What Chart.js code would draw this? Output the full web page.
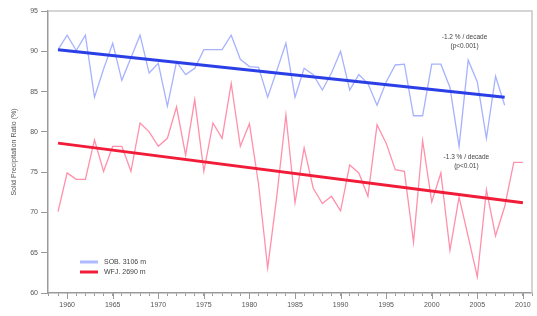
<!DOCTYPE html>
<html>
<head>
<meta charset="utf-8">
<script src="https://cdn.jsdelivr.net/npm/chart.js@4.4.1/dist/chart.umd.min.js"></script>
<style>
  html, body { margin: 0; padding: 0; background: #fff; }
  #wrap { width: 537px; height: 316px; }
</style>
</head>
<body>
<div id="wrap"><canvas id="chart" width="537" height="316"></canvas></div>
<script>
// Station series, solid precipitation ratio (%) per year
const sobYears = [1959, 1960, 1961, 1962, 1963, 1964, 1965, 1966, 1967, 1968,
                  1969, 1970, 1971, 1972, 1973, 1974, 1975, 1976, 1977, 1978,
                  1979, 1980, 1981, 1982, 1983, 1984, 1985, 1986, 1987, 1988,
                  1989, 1990, 1991, 1992, 1993, 1994, 1995, 1996, 1997, 1998,
                  1999, 2000, 2001, 2002, 2003, 2004, 2005, 2006, 2007, 2008];
const sobValues = [90.2, 92.0, 90.1, 92.0, 84.3, 87.8, 91.0, 86.4, 89.2, 92.0,
                   87.3, 88.5, 83.2, 88.7, 87.1, 87.9, 90.2, 90.2, 90.2, 92.0,
                   89.0, 88.1, 88.0, 84.3, 87.6, 91.0, 84.3, 87.9, 87.1, 85.2,
                   87.3, 90.0, 85.2, 87.1, 86.0, 83.3, 86.2, 88.3, 88.4, 82.0,
                   82.0, 88.4, 88.4, 85.5, 78.2, 88.9, 86.2, 79.2, 86.9, 83.3];

const wfjYears = [1959, 1960, 1961, 1962, 1963, 1964, 1965, 1966, 1967, 1968,
                  1969, 1970, 1971, 1972, 1973, 1974, 1975, 1976, 1977, 1978,
                  1979, 1980, 1981, 1982, 1983, 1984, 1985, 1986, 1987, 1988,
                  1989, 1990, 1991, 1992, 1993, 1994, 1995, 1996, 1997, 1998,
                  1999, 2000, 2001, 2002, 2003, 2004, 2005, 2006, 2007, 2008,
                  2009, 2010];
const wfjValues = [70.1, 74.9, 74.1, 74.1, 79.0, 75.1, 78.2, 78.2, 75.1, 81.1,
                   80.0, 78.2, 79.2, 83.1, 77.1, 84.0, 75.1, 81.1, 79.2, 86.0,
                   78.2, 81.0, 73.5, 63.1, 72.0, 82.1, 71.2, 78.0, 73.0, 71.1,
                   72.0, 70.2, 75.9, 74.9, 72.0, 80.9, 78.6, 75.3, 75.1, 66.3,
                   78.9, 71.3, 74.9, 65.3, 71.9, 67.0, 62.0, 72.8, 67.1, 70.7,
                   76.2, 76.2];

// Linear trend end points
const sobTrendYears = [1959, 2008];
const sobTrendValues = [90.2, 84.3];
const wfjTrendYears = [1959, 2010];
const wfjTrendValues = [78.6, 71.2];

const seriesNames = ['SOB. 3106 m', 'WFJ. 2690 m'];
const trendNotes = [
    { text: ['-1.2 % / decade', '(p<0.001)'], x: 2003.6, y: 91.7 },
    { text: ['-1.3 % / decade', '(p<0.01)'], x: 2003.8, y: 76.8 }
];
const yTicks = [60, 65, 70, 75, 80, 85, 90, 95];
const xLabelYears = [1960, 1965, 1970, 1975, 1980, 1985, 1990, 1995, 2000, 2005, 2010];

const blueLine = 'rgba(95, 115, 255, 0.55)';
const blueTrend = '#2b3fe6';
const redLine = 'rgba(255, 70, 115, 0.6)';
const redTrend = '#f01c38';
const axisGrey = '#9a9a9a';
const textGrey = '#555';

function pts(xs, ys) {
    return xs.map((x, i) => ({ x: x, y: ys[i] }));
}

// frame on top/right, longer major ticks, legend and trend notes
const extras = {
    id: 'extras',
    afterDraw(chart) {
        const ctx = chart.ctx;
        const a = chart.chartArea;
        const xs = chart.scales.x;
        const ys = chart.scales.y;
        ctx.save();
        ctx.strokeStyle = '#c8c8c8';
        ctx.lineWidth = 1.5;
        ctx.beginPath();
        ctx.moveTo(a.left, a.top);
        ctx.lineTo(a.right, a.top);
        ctx.lineTo(a.right, a.bottom);
        ctx.stroke();

        ctx.strokeStyle = axisGrey;
        ctx.lineWidth = 1;
        xLabelYears.forEach(yr => {
            const px = Math.round(xs.getPixelForValue(yr)) + 0.5;
            ctx.beginPath();
            ctx.moveTo(px, a.bottom);
            ctx.lineTo(px, a.bottom + 6);
            ctx.stroke();
        });

        // legend
        const items = [
            { label: seriesNames[0], color: 'rgba(120, 140, 255, 0.6)' },
            { label: seriesNames[1], color: redTrend }
        ];
        ctx.font = '7px Arial, "Liberation Sans", sans-serif';
        ctx.textBaseline = 'middle';
        items.forEach((it, i) => {
            const y = 262 + i * 10;
            ctx.strokeStyle = it.color;
            ctx.lineWidth = 3;
            ctx.beginPath();
            ctx.moveTo(80, y);
            ctx.lineTo(98, y);
            ctx.stroke();
            ctx.fillStyle = '#444';
            ctx.fillText(it.label, 104, y);
        });

        // trend notes
        ctx.textAlign = 'center';
        ctx.font = '6.5px Arial, "Liberation Sans", sans-serif';
        trendNotes.forEach(n => {
            const px = xs.getPixelForValue(n.x);
            const py = ys.getPixelForValue(n.y);
            n.text.forEach((t, i) => ctx.fillText(t, px, py + i * 9));
        });
        ctx.restore();
    }
};

new Chart(document.getElementById('chart'), {
    type: 'line',
    data: {
        datasets: [
            { label: seriesNames[0], data: pts(sobYears, sobValues), borderColor: blueLine,
              borderWidth: 1.3, pointRadius: 0, tension: 0, order: 3 },
            { label: seriesNames[1], data: pts(wfjYears, wfjValues), borderColor: redLine,
              borderWidth: 1.3, pointRadius: 0, tension: 0, order: 4 },
            { label: 'SOB trend', data: pts(sobTrendYears, sobTrendValues), borderColor: blueTrend,
              borderWidth: 3, pointRadius: 0, order: 1 },
            { label: 'WFJ trend', data: pts(wfjTrendYears, wfjTrendValues), borderColor: redTrend,
              borderWidth: 3, pointRadius: 0, order: 2 }
        ]
    },
    options: {
        responsive: false,
        animation: false,
        layout: { padding: { top: 11, right: 5, left: 0, bottom: 0 } },
        plugins: { legend: { display: false }, tooltip: { enabled: false } },
        scales: {
            x: {
                type: 'linear',
                min: 1957.9,
                max: 2011,
                afterBuildTicks(axis) {
                    const t = [];
                    for (let yr = 1958; yr <= 2011; yr++) t.push({ value: yr });
                    axis.ticks = t;
                },
                afterFit(axis) { axis.height = 23; },
                grid: { drawOnChartArea: false, tickLength: 3, color: axisGrey },
                border: { color: axisGrey, width: 1.5 },
                ticks: {
                    autoSkip: false,
                    maxRotation: 0,
                    padding: 5,
                    color: textGrey,
                    font: { size: 7, family: 'Arial, "Liberation Sans", sans-serif' },
                    callback: v => (xLabelYears.includes(v) ? String(v) : '')
                }
            },
            y: {
                min: 60,
                max: 95,
                afterBuildTicks(axis) {
                    axis.ticks = yTicks.map(v => ({ value: v }));
                },
                afterFit(axis) { axis.width = 48; },
                grid: { drawOnChartArea: false, tickLength: 7, color: axisGrey },
                border: { color: axisGrey, width: 1.5 },
                ticks: {
                    padding: 3,
                    color: textGrey,
                    font: { size: 7, family: 'Arial, "Liberation Sans", sans-serif' }
                },
                title: {
                    display: true,
                    text: 'Solid Precipitation Ratio (%)',
                    color: textGrey,
                    padding: { top: 10, bottom: 0 },
                    font: { size: 7, family: 'Arial, "Liberation Sans", sans-serif' }
                }
            }
        }
    },
    plugins: [extras]
});
</script>
</body>
</html>
